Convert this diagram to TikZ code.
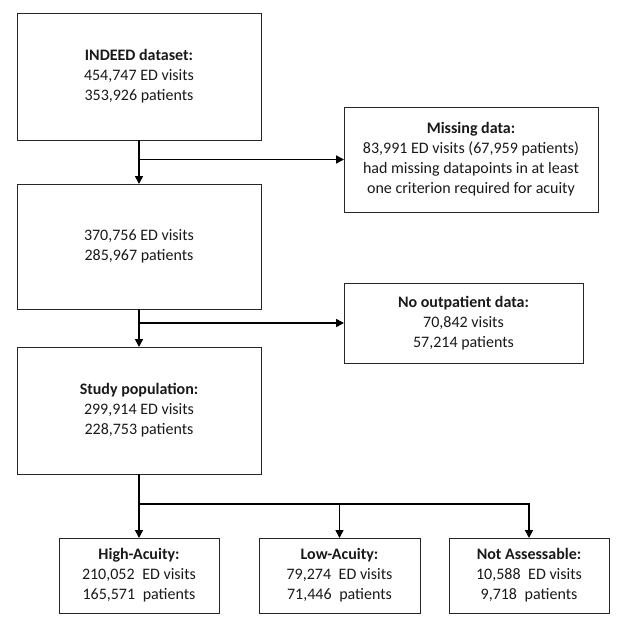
\documentclass[tikz,border=0pt]{standalone}
\usepackage{fontspec}
\setmainfont{Carlito}
\usetikzlibrary{arrows.meta}
\begin{document}
\begin{tikzpicture}[x=1pt,y=-1pt,
  box/.style={draw=black!85, line width=1pt, inner sep=0pt, outer sep=0pt, align=center,
    font=\fontsize{16}{20}\selectfont, text=black!90},
  arr/.style={line width=1.6pt, -{Triangle[length=8pt,width=8pt]}},
  ln/.style={line width=1.6pt}]
\useasboundingbox (0,0) rectangle (621,621);
\node[box, minimum width=244pt, minimum height=127pt] (b1) at (139,76.5)
  {\textbf{INDEED dataset:}\\454,747 ED visits\\353,926 patients};
\node[box, minimum width=244pt, minimum height=125pt] (b2) at (139,246.5)
  {370,756 ED visits\\285,967 patients};
\node[box, minimum width=244pt, minimum height=127pt] (b3) at (139,410.5)
  {\textbf{Study population:}\\299,914 ED visits\\228,753 patients};
\node[box, minimum width=254pt, minimum height=105pt] (miss) at (471,159.5)
  {\textbf{Missing data:}\\83,991 ED visits (67,959 patients)\\had missing datapoints in at least\\one criterion required for acuity};
\node[box, minimum width=239pt, minimum height=80pt] (nout) at (463.5,323)
  {\textbf{No outpatient data:}\\70,842 visits\\57,214 patients};
\node[box, minimum width=160pt, minimum height=75pt] (hi) at (139,575.5)
  {\textbf{High-Acuity:}\\210,052\hspace{0.25em} ED visits\\165,571\hspace{0.25em} patients};
\node[box, minimum width=161pt, minimum height=75pt] (lo) at (339.5,575.5)
  {\textbf{Low-Acuity:}\\79,274\hspace{0.25em} ED visits\\71,446\hspace{0.25em} patients};
\node[box, minimum width=160pt, minimum height=75pt] (na) at (529,575.5)
  {\textbf{Not Assessable:}\\10,588\hspace{0.25em} ED visits\\9,718\hspace{0.25em} patients};
\draw[arr] (b1.south) -- (b2.north);
\draw[arr] (b1.south |- miss.west) -- (miss.west);
\draw[arr] (b2.south) -- (b3.north);
\draw[arr] (b2.south |- nout.west) -- (nout.west);
\coordinate (split) at (139,504);
\draw[arr] (b3.south) -- (hi.north);
\draw[arr] (split) -| (na.north);
\draw[arr] (lo.north |- split) -- (lo.north);
\end{tikzpicture}
\end{document}
